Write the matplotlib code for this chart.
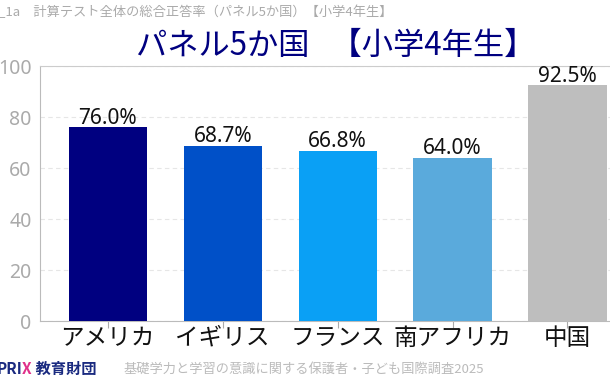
import matplotlib
matplotlib.use("Agg")
import matplotlib.pyplot as plt

plt.rcParams['font.family'] = ['Noto Sans CJK JP', 'DejaVu Sans']

countries = ['アメリカ', 'イギリス', 'フランス', '南アフリカ', '中国']
rates = [76.0, 68.7, 66.8, 64.0, 92.5]
bar_colors = ['#000080', '#0050C8', '#0AA0F5', '#5AAADC', '#BEBEBE']
yticks = [0, 20, 40, 60, 80, 100]

fig = plt.figure(figsize=(6.1, 3.8), dpi=100)
ax = fig.add_axes([0.0656, 0.155, 0.9344, 0.671])

x = range(len(countries))
bars = ax.bar(x, rates, width=0.68, color=bar_colors, zorder=3)

for b, v in zip(bars, rates):
    ax.annotate(f'{v:.1f}%', (b.get_x() + b.get_width() / 2, v),
                xytext=(0, -1), textcoords='offset points',
                ha='center', va='bottom', fontsize=15, color='#111111',
                family=['Noto Sans', 'DejaVu Sans'])

ax.set_ylim(0, 100)
ax.set_xlim(-0.59, 4.37)
ax.set_yticks(yticks)
ax.set_xticks(list(x))
ax.set_xticklabels(countries, fontsize=17, color='#111111')
ax.tick_params(axis='y', length=0, labelsize=14, labelcolor='#AAAAAA', pad=6)
ax.tick_params(axis='x', length=5, color='#AAAAAA', pad=-1)
for lbl in ax.get_yticklabels():
    lbl.set_family(['Noto Sans', 'DejaVu Sans'])

ax.grid(axis='y', linestyle=(0, (4, 3)), color='#E6E6E6', linewidth=0.8, zorder=0)
ax.spines['right'].set_visible(False)
ax.spines['top'].set_color('#CCCCCC')
ax.spines['left'].set_color('#BBBBBB')
ax.spines['bottom'].set_color('#BBBBBB')

# title and captions
fig.text(0.55, 0.88, 'パネル5か国   【小学4年生】', ha='center', va='center',
         fontsize=22.5, color='#000080')
fig.text(-0.004, 0.968, '_1a　計算テスト全体の総合正答率（パネル5か国）【小学4年生】',
         ha='left', va='center', fontsize=9.5, color='#AAAAAA')

# footer logo: PRI + magenta X + 教育財団, placed one after another
renderer = fig.canvas.get_renderer()
xpos = -0.006
for txt, col in [('PRI', '#1A2A80'), ('X', '#E0308A'), (' 教育財団', '#1A2A80')]:
    t = fig.text(xpos, 0.028, txt, ha='left', va='center', fontsize=11,
                 fontweight='bold', color=col)
    bb = t.get_window_extent(renderer)
    xpos = bb.x1 / fig.bbox.width
fig.text(0.203, 0.028, '基礎学力と学習の意識に関する保護者・子ども国際調査2025',
         ha='left', va='center', fontsize=9.5, color='#BBBBBB')

fig.savefig('out.png', dpi=100)
